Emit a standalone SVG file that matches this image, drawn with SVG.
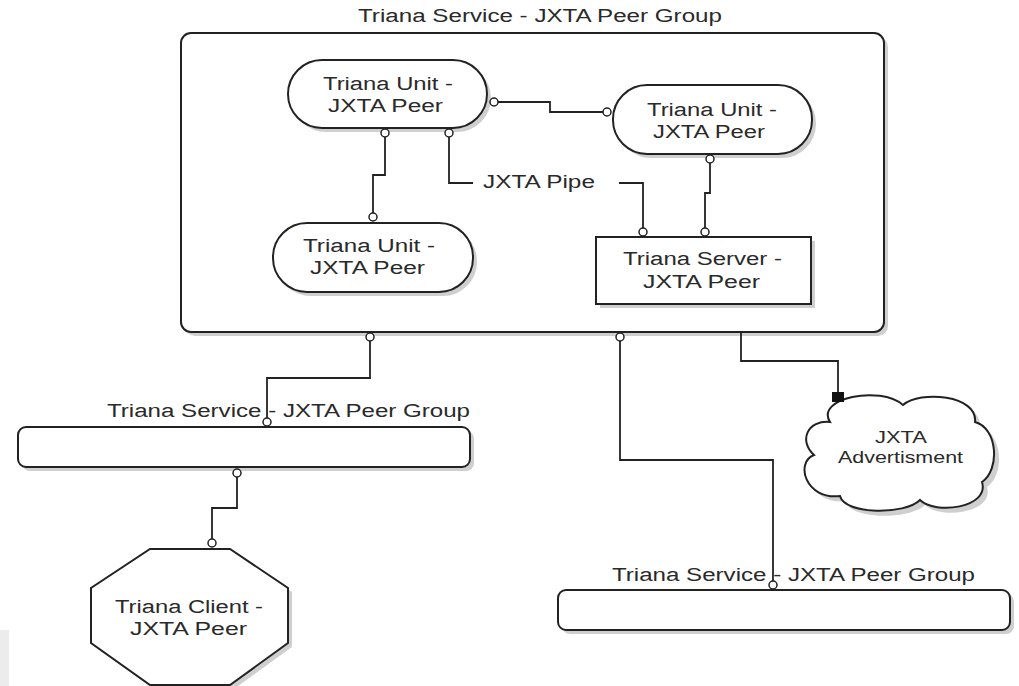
<svg xmlns="http://www.w3.org/2000/svg" width="1019" height="686" viewBox="0 0 1019 686">
<style>
.sh{fill:#cfcfcf;stroke:none}
.nd{fill:#fff;stroke:#222;stroke-width:2}
.t{font-family:"Liberation Sans",Arial,sans-serif;font-size:18px;fill:#2a2a2a}
.ts{font-family:"Liberation Sans",Arial,sans-serif;font-size:16px;fill:#2a2a2a}
.c{fill:none;stroke:#222;stroke-width:1.8}
.p{fill:#fff;stroke:#222;stroke-width:1.5}
</style>
<rect width="1019" height="686" fill="#fff"/>
<rect x="0" y="630" width="9" height="56" fill="#ececec"/>

<g id="group-main">
<rect class="sh" x="185" y="37" width="703" height="299" rx="10"/>
<rect class="nd" x="181" y="33" width="703" height="299" rx="10"/>
<text class="t" x="358" y="22" textLength="364" lengthAdjust="spacingAndGlyphs">Triana Service - JXTA Peer Group</text>
</g>

<g id="unit1">
<rect class="sh" x="292" y="64" width="199" height="68" rx="34"/>
<rect class="nd" x="288" y="60" width="199" height="68" rx="34"/>
<text class="t" x="323" y="90" textLength="130" lengthAdjust="spacingAndGlyphs">Triana Unit -</text>
<text class="t" x="328" y="112" textLength="115" lengthAdjust="spacingAndGlyphs">JXTA Peer</text>
</g>

<g id="unit2">
<rect class="sh" x="617" y="89" width="199" height="69" rx="34"/>
<rect class="nd" x="613" y="85" width="199" height="69" rx="34"/>
<text class="t" x="647" y="116" textLength="130" lengthAdjust="spacingAndGlyphs">Triana Unit -</text>
<text class="t" x="653" y="138" textLength="112" lengthAdjust="spacingAndGlyphs">JXTA Peer</text>
</g>

<g id="unit3">
<rect class="sh" x="277" y="227" width="200" height="69" rx="34"/>
<rect class="nd" x="273" y="223" width="200" height="69" rx="34"/>
<text class="t" x="303" y="252" textLength="132" lengthAdjust="spacingAndGlyphs">Triana Unit -</text>
<text class="t" x="310" y="274" textLength="115" lengthAdjust="spacingAndGlyphs">JXTA Peer</text>
</g>

<g id="server">
<rect class="sh" x="600" y="241" width="215" height="67"/>
<rect class="nd" x="596" y="237" width="215" height="67"/>
<text class="t" x="623" y="265" textLength="159" lengthAdjust="spacingAndGlyphs">Triana Server -</text>
<text class="t" x="643" y="288" textLength="117" lengthAdjust="spacingAndGlyphs">JXTA Peer</text>
</g>

<g id="group-left">
<rect class="sh" x="22" y="431" width="452" height="40" rx="8"/>
<rect class="nd" x="18" y="427" width="452" height="40" rx="8"/>
<text class="t" x="107" y="417" textLength="363" lengthAdjust="spacingAndGlyphs">Triana Service - JXTA Peer Group</text>
</g>

<g id="group-right">
<rect class="sh" x="562" y="594" width="452" height="40" rx="8"/>
<rect class="nd" x="558" y="590" width="452" height="40" rx="8"/>
<text class="t" x="612" y="581" textLength="363" lengthAdjust="spacingAndGlyphs">Triana Service - JXTA Peer Group</text>
</g>

<g id="client">
<polygon class="sh" points="154,553 234,553 292,592 292,647 234,689 154,689 95,647 95,592"/>
<polygon class="nd" points="150,549 230,549 288,588 288,643 230,685 150,685 91,643 91,588"/>
<text class="t" x="115" y="613" textLength="148" lengthAdjust="spacingAndGlyphs">Triana Client -</text>
<text class="t" x="130" y="635" textLength="117" lengthAdjust="spacingAndGlyphs">JXTA Peer</text>
</g>

<g id="advertisment">
<path class="sh" transform="translate(5,5)" d="M830,422 C815,398 880,385 903,405 C920,390 978,395 975,422 C998,428 1000,470 982,482 C990,508 935,515 920,500 C905,515 845,515 840,496 C805,500 795,462 814,455 C798,440 808,420 830,422 Z"/>
<path class="nd" d="M830,422 C815,398 880,385 903,405 C920,390 978,395 975,422 C998,428 1000,470 982,482 C990,508 935,515 920,500 C905,515 845,515 840,496 C805,500 795,462 814,455 C798,440 808,420 830,422 Z"/>
<text class="ts" x="875" y="443" textLength="52" lengthAdjust="spacingAndGlyphs">JXTA</text>
<text class="ts" x="838" y="463" textLength="125" lengthAdjust="spacingAndGlyphs">Advertisment</text>
</g>

<g id="connectors">
<polyline class="c" points="498,102 550,102 550,112 603,112"/>
<polyline class="c" points="385,137 385,175 373,175 373,213"/>
<polyline class="c" points="449,137 449,183 473,183"/>
<polyline class="c" points="619,183 643,183 643,228"/>
<text class="t" x="483" y="188" textLength="112" lengthAdjust="spacingAndGlyphs">JXTA Pipe</text>
<polyline class="c" points="710,163 710,193 705,193 705,228"/>
<polyline class="c" points="370,341 370,378 267,378 267,418"/>
<polyline class="c" points="237,477 237,508 212,508 212,539"/>
<polyline class="c" points="620,341 620,460 773,460 773,581"/>
<polyline class="c" points="741,332 741,361 838,361 838,392"/>
<circle class="p" cx="494" cy="102" r="4"/>
<circle class="p" cx="607" cy="112" r="4"/>
<circle class="p" cx="385" cy="133" r="4"/>
<circle class="p" cx="373" cy="217" r="4"/>
<circle class="p" cx="449" cy="133" r="4"/>
<circle class="p" cx="643" cy="232" r="4"/>
<circle class="p" cx="710" cy="159" r="4"/>
<circle class="p" cx="705" cy="232" r="4"/>
<circle class="p" cx="370" cy="337" r="4"/>
<circle class="p" cx="267" cy="422" r="4"/>
<circle class="p" cx="237" cy="473" r="4"/>
<circle class="p" cx="212" cy="543" r="4"/>
<circle class="p" cx="620" cy="337" r="4"/>
<circle class="p" cx="773" cy="585" r="4"/>
<rect x="832" y="392" width="12" height="10" fill="#111"/>
</g>
</svg>
